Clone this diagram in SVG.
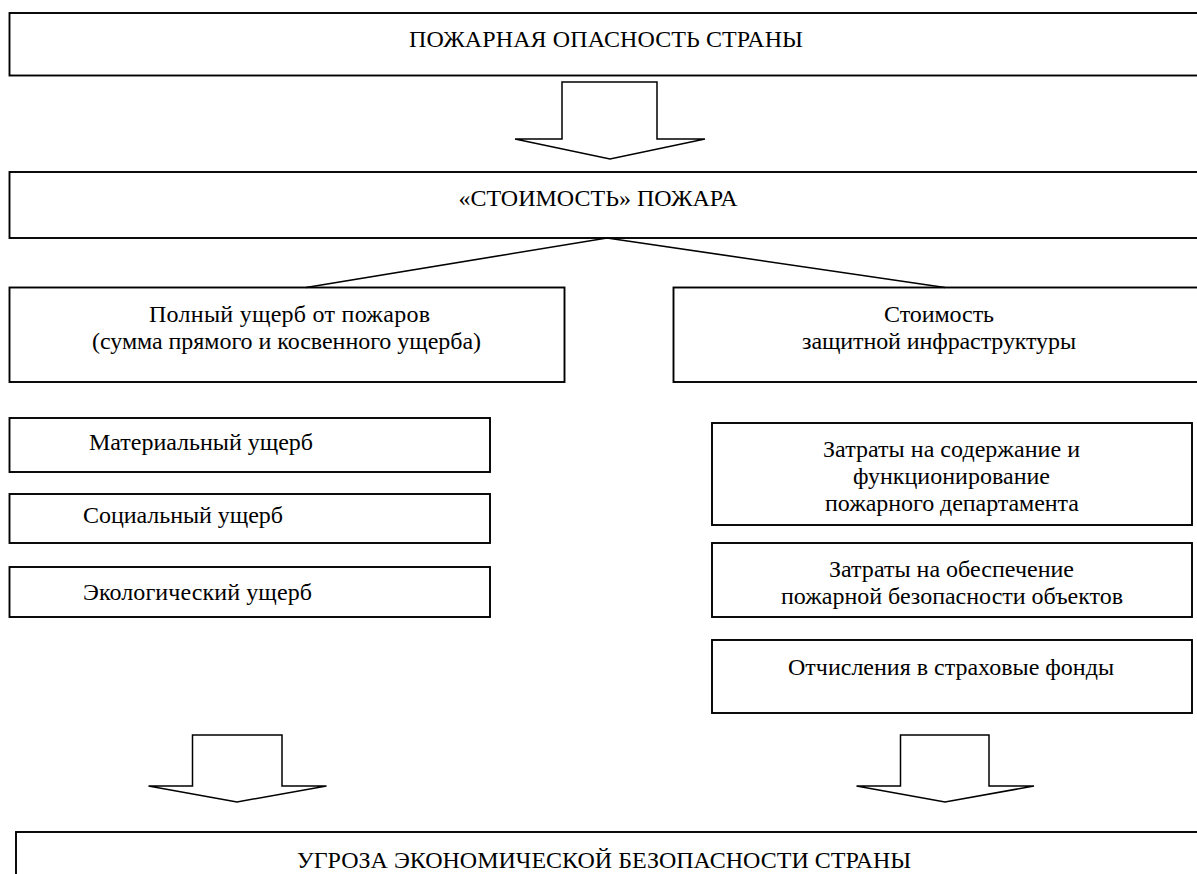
<svg xmlns="http://www.w3.org/2000/svg" width="1197" height="874" viewBox="0 0 1197 874">
<style>
  .box { fill: #ffffff; stroke: #000000; stroke-width: 1.9; }
  .arrow { fill: #ffffff; stroke: #000000; stroke-width: 1.5; stroke-linejoin: miter; }
  .conn { fill: none; stroke: #000000; stroke-width: 1.6; }
  text { font-family: "Liberation Serif", "Times New Roman", serif; font-size: 24px; fill: #000000; }
  .c { text-anchor: middle; }
</style>
<rect width="1197" height="874" fill="#ffffff"/>

<g id="node-fire-danger">
  <rect class="box" x="9.5" y="13" width="1200" height="62.5"/>
  <text class="c" x="606" y="47" textLength="394" lengthAdjust="spacing">ПОЖАРНАЯ ОПАСНОСТЬ СТРАНЫ</text>
</g>

<g id="node-fire-cost">
  <rect class="box" x="9.5" y="172" width="1200" height="66"/>
  <text class="c" x="598" y="206">«СТОИМОСТЬ» ПОЖАРА</text>
</g>

<g id="node-full-damage">
  <rect class="box" x="9.5" y="287.5" width="555" height="94.5"/>
  <text class="c" x="289.5" y="322" textLength="281" lengthAdjust="spacing">Полный ущерб от пожаров</text>
  <text class="c" x="286.5" y="349" textLength="389" lengthAdjust="spacing">(сумма прямого и косвенного ущерба)</text>
</g>

<g id="node-infrastructure-cost">
  <rect class="box" x="673.5" y="287.5" width="540" height="94.5"/>
  <text class="c" x="939" y="322" textLength="110" lengthAdjust="spacing">Стоимость</text>
  <text class="c" x="939" y="349" textLength="274" lengthAdjust="spacing">защитной инфраструктуры</text>
</g>

<g id="node-material">
  <rect class="box" x="9.5" y="418" width="480.5" height="54"/>
  <text x="89" y="450" textLength="224" lengthAdjust="spacing">Материальный ущерб</text>
</g>

<g id="node-social">
  <rect class="box" x="9.5" y="494" width="480.5" height="49"/>
  <text x="83" y="523" textLength="200" lengthAdjust="spacing">Социальный ущерб</text>
</g>

<g id="node-ecological">
  <rect class="box" x="9.5" y="567" width="480.5" height="50"/>
  <text x="83" y="600" textLength="229" lengthAdjust="spacing">Экологический ущерб</text>
</g>

<g id="node-department">
  <rect class="box" x="712" y="423" width="480" height="102"/>
  <text class="c" x="951.5" y="457" textLength="257" lengthAdjust="spacing">Затраты на содержание и</text>
  <text class="c" x="951.5" y="484" textLength="197" lengthAdjust="spacing">функционирование</text>
  <text class="c" x="952" y="511" textLength="254" lengthAdjust="spacing">пожарного департамента</text>
</g>

<g id="node-objects">
  <rect class="box" x="712" y="543" width="480" height="74"/>
  <text class="c" x="951.5" y="577" textLength="245" lengthAdjust="spacing">Затраты на обеспечение</text>
  <text class="c" x="952" y="604" textLength="342" lengthAdjust="spacing">пожарной безопасности объектов</text>
</g>

<g id="node-insurance">
  <rect class="box" x="712" y="640" width="480" height="73"/>
  <text class="c" x="951" y="675" textLength="326" lengthAdjust="spacing">Отчисления в страховые фонды</text>
</g>

<g id="node-threat">
  <rect class="box" x="16" y="832" width="1200" height="60"/>
  <text class="c" x="604" y="868">УГРОЗА ЭКОНОМИЧЕСКОЙ БЕЗОПАСНОСТИ СТРАНЫ</text>
</g>

<g id="connectors">
  <polygon class="arrow" points="562,82 657,82 657,139 705,139 610,159 515,139 562,139"/>
  <polyline class="conn" points="306,287.5 607,238 945,287.5"/>
  <polygon class="arrow" points="192.5,735 282,735 282,786 326.5,786 237,802 148.5,786 192.5,786"/>
  <polygon class="arrow" points="900.5,735 989,735 989,786 1034,786 945,802 856.5,786 900.5,786"/>
</g>
</svg>
